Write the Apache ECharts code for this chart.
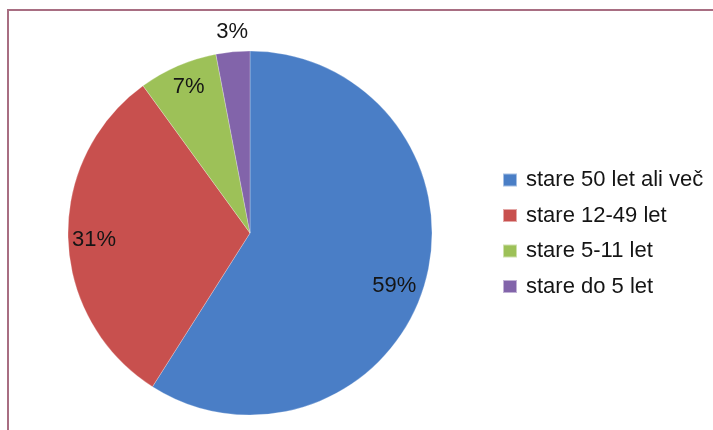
<!DOCTYPE html>
<html>
<head>
<meta charset="utf-8">
<script src="https://cdn.jsdelivr.net/npm/echarts@6/dist/echarts.min.js"></script>
<style>
  html, body { margin: 0; padding: 0; background: #ffffff; }
  #chart { width: 713px; height: 430px; }
</style>
</head>
<body>
<div id="chart"></div>
<script>
// Age groups and their shares (percent)
const categories = ['stare 50 let ali več', 'stare 12-49 let', 'stare 5-11 let', 'stare do 5 let'];
const shares = [59, 31, 7, 3];
const sliceColors = ['#4a7ec6', '#c8504e', '#9dc158', '#8264aa'];

// Label nudges away from the default mid-radius position
const labelOffsets = [[54, 27], [-62, 4], [-24, -60], [-9, -107]];

const chart = echarts.init(document.getElementById('chart'), null, { renderer: 'canvas' });

const pieData = categories.map((name, i) => ({
  name: name,
  value: shares[i],
  itemStyle: { color: sliceColors[i] },
  label: { offset: labelOffsets[i] }
}));

chart.setOption({
  animation: false,
  backgroundColor: '#ffffff',
  graphic: [{
    type: 'rect',
    shape: { x: 8, y: 10, width: 720, height: 440 },
    style: { fill: 'none', stroke: '#a86e82', lineWidth: 2 },
    silent: true
  }],
  legend: {
    orient: 'vertical',
    left: 502,
    top: 168,
    padding: 0,
    itemWidth: 14,
    itemHeight: 13,
    itemGap: 11.5,
    icon: 'rect',
    data: categories,
    textStyle: {
      fontFamily: 'Liberation Sans, Arial, sans-serif',
      fontSize: 22,
      lineHeight: 24,
      color: '#151515',
      padding: [0, 0, 0, 4]
    }
  },
  series: [{
    type: 'pie',
    center: [250, 233],
    radius: [0, 182],
    startAngle: 90,
    clockwise: true,
    avoidLabelOverlap: false,
    itemStyle: { borderColor: 'rgba(255,255,255,0.5)', borderWidth: 0.5 },
    label: {
      show: true,
      position: 'inside',
      formatter: '{c}%',
      fontFamily: 'Liberation Sans, Arial, sans-serif',
      fontSize: 22,
      color: '#151515'
    },
    labelLine: { show: false },
    emphasis: { disabled: true },
    data: pieData
  }]
});
</script>
</body>
</html>
